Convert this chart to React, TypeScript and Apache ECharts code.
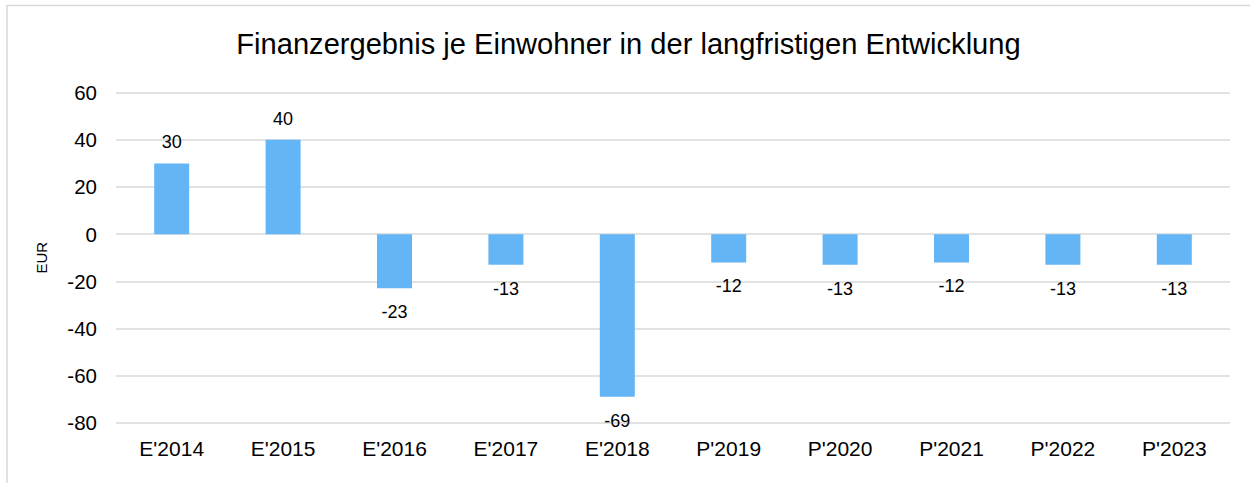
import React, { useEffect, useRef } from "react";
import * as echarts from "echarts";

const categories = ["E'2014", "E'2015", "E'2016", "E'2017", "E'2018", "P'2019", "P'2020", "P'2021", "P'2022", "P'2023"];
const values = [30, 40, -23, -13, -69, -12, -13, -12, -13, -13];
const titleText = "Finanzergebnis je Einwohner in der langfristigen Entwicklung";
const yAxisName = "EUR";

const FONT = "'Liberation Sans', Arial, sans-serif";

export default function App() {
  const ref = useRef<HTMLDivElement>(null);
  useEffect(() => {
    document.body.style.margin = "0";
    const chart = echarts.init(ref.current!, null, { renderer: "svg" });
    chart.setOption({
      animation: false,
      backgroundColor: "#ffffff",
      graphic: [
        {
          type: "rect",
          shape: { x: 7, y: 5.5, width: 1400, height: 700 },
          style: { fill: "none", stroke: "#d9d9d9", lineWidth: 1.5 },
          silent: true,
        },
        {
          type: "text",
          style: {
            text: titleText,
            x: 628.5,
            y: 44,
            align: "center",
            verticalAlign: "middle",
            fontSize: 29.1,
            fontFamily: FONT,
            fill: "#000000",
          },
        },
      ],
      grid: { left: 116, right: 20, top: 92.7, bottom: 60.3, containLabel: false },
      xAxis: {
        type: "category",
        data: categories,
        axisLine: { show: false, onZero: false },
        axisTick: { show: false },
        axisLabel: { fontSize: 21, fontFamily: FONT, color: "#000000", margin: 15 },
        splitLine: { show: false },
      },
      yAxis: {
        type: "value",
        min: -80,
        max: 60,
        interval: 20,
        name: yAxisName,
        nameLocation: "middle",
        nameRotate: 90,
        nameGap: 67,
        nameTextStyle: { fontSize: 15, fontFamily: FONT, color: "#000000" },
        axisLine: { show: false },
        axisTick: { show: false },
        axisLabel: { fontSize: 20.5, fontFamily: FONT, color: "#000000", margin: 19 },
        splitLine: { lineStyle: { color: "#d9d9d9", width: 1.5 } },
      },
      series: [
        {
          type: "bar",
          barWidth: 35,
          itemStyle: { color: "#64B5F6" },
          data: values.map((v) => ({
            value: v,
            label: {
              show: true,
              position: v >= 0 ? "top" : "bottom",
              distance: v >= 0 ? 12 : 15,
              fontSize: 18,
              fontFamily: FONT,
              color: "#000000",
            },
          })),
        },
      ],
    });
    return () => chart.dispose();
  }, []);
  return <div ref={ref} style={{ width: 1250, height: 483 }} />;
}
